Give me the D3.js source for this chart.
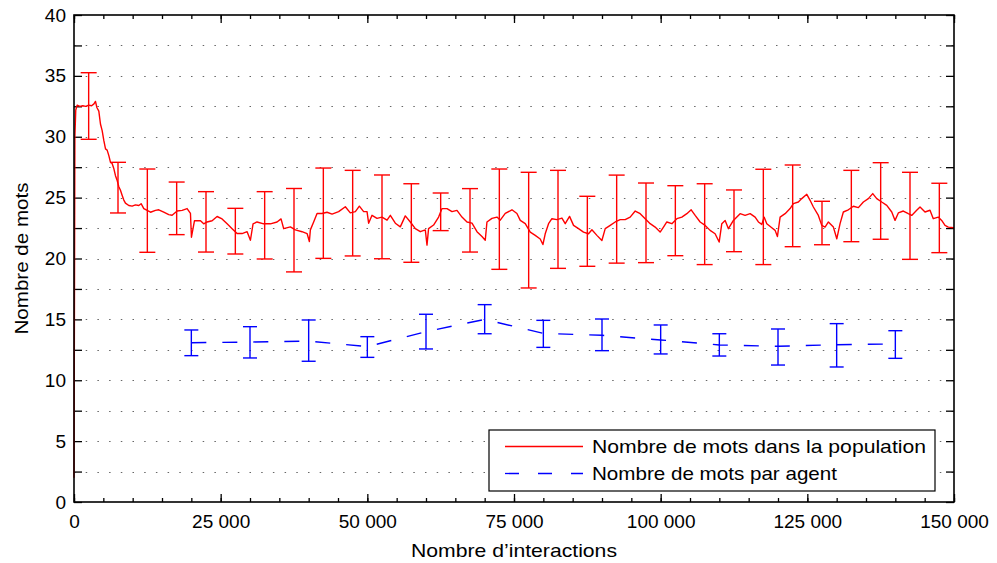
<!DOCTYPE html>
<html>
<head>
<meta charset="utf-8">
<script src="https://cdn.jsdelivr.net/npm/d3@7"></script>
<style>
body { margin: 0; background: #fff; }
svg { font-family: "Liberation Sans", Arial, sans-serif; }
</style>
</head>
<body>
<svg id="chart" width="997" height="563"></svg>
<script>
// ---- data ----
const redX = [0,150,300,540,1000,1500,2000,2500,3000,3400,3660,3900,4230,4510,4800,5080,5370,5650,5940,6220,6500,6780,7070,7360,7640,7920,8200,8490,8770,9340,9910,10480,11050,11440,11900,12470,13040,13880,14450,15300,16150,16720,17580,18430,19280,19850,20020,20530,21560,22110,22680,23540,24390,25240,26100,26950,27800,28650,29510,30070,30520,31200,32340,33480,34610,35290,35740,36880,
  37730,38870,39730,40120,40290,40850,41430,42280,43130,43990,45110,46250,47100,47960,48640,49370,49950,50220,50800,51650,52500,53360,53920,54770,55620,56470,57330,58180,59030,59880,60170,60440,61290,62150,62730,63580,64430,65280,66130,66990,67840,68690,69540,70100,70390,71240,72100,72660,73510,74650,75500,
  76070,76920,77770,78620,79470,79930,80320,80890,81460,82320,83170,83730,84470,85150,86000,86850,87700,88280,89130,89980,90550,91400,92250,93100,93950,94800,95660,96510,97360,98210,99060,99910,100480,101050,101910,102760,103610,104460,105200,105880,106730,107580,108430,109280,109970,110420,110990,111550,112400,
  113540,114390,115250,116100,116660,117240,117630,118090,118940,119510,119900,120360,121210,122060,122620,123470,124050,124910,125470,126030,126880,127460,128020,128590,129440,130020,130580,131140,131990,132850,133700,134550,135400,136150,136830,137680,138540,139390,139950,140510,141360,142210,142790,143640,144210,145060,145910,146470,147320,147900,148470,149030,150000];
const redY = [2,30,32.2,32.6,32.5,32.55,32.5,32.6,32.55,32.7,32.9,32.4,32.1,31.05,30.5,29.7,29.0,28.9,28.45,27.9,27.8,27.4,26.8,26.4,25.9,25.6,25.2,24.8,24.55,24.35,24.3,24.4,24.35,24.5,24.1,23.95,23.8,23.95,24.0,23.8,23.6,23.55,23.9,23.95,24.1,23.7,21.75,23.1,23.1,22.85,23.0,23.1,23.45,23.25,22.85,22.45,22.05,22.05,22.2,21.5,22.85,23.0,22.85,22.85,23.0,23.25,22.45,22.6,
  22.35,22.2,22.05,21.4,22.35,23.0,23.7,23.7,23.8,23.65,23.85,24.25,23.75,23.85,24.3,23.85,23.85,22.9,23.55,23.3,23.4,23.15,23.55,22.9,22.6,23.5,23.0,22.45,22.2,22.35,21.1,22.45,22.75,23.4,24.1,24.1,23.85,23.95,23.4,23.0,22.9,22.2,21.8,21.5,23.0,23.3,23.4,23.15,23.7,24.0,23.7,
  23.13,22.86,22.17,21.9,21.6,21.15,22.03,22.86,23.27,23.19,23.32,22.86,23.46,22.72,22.45,22.17,22.03,22.36,21.9,21.48,22.45,22.72,23.0,23.19,23.19,23.4,23.9,23.68,23.27,22.86,22.58,22.17,22.58,23.0,22.86,23.27,23.4,23.68,24.0,23.54,23.0,22.72,22.31,22.03,21.35,22.86,23.13,22.45,23.13,
  23.68,23.54,23.68,23.4,23.0,22.8,23.4,22.86,22.53,22.31,21.8,23.4,23.68,24.1,24.5,24.64,24.92,25.27,24.78,24.23,23.54,22.72,22.58,23.0,22.58,21.62,22.86,23.82,24.0,24.29,24.18,24.64,24.92,25.33,24.92,24.64,24.37,23.82,23.13,23.74,23.9,23.68,23.54,23.96,24.23,23.82,23.96,23.27,23.4,23.13,22.72,22.58,22.53];

// error bars of the population series
const redBarX = [2500,7500,12500,17500,22500,27500,32500,37500,42500,47500,52500,57500,62500,67500,72500,77500,82500,87500,92500,97500,102500,107500,112500,117500,122500,127500,132500,137500,142500,147500];
const redBarHigh = [35.26,27.9,27.35,26.28,25.49,24.12,25.49,25.75,27.43,27.24,26.86,26.14,25.38,25.74,27.35,27.08,27.24,25.11,26.85,26.2,25.98,26.14,25.63,27.33,27.68,24.7,27.24,27.87,27.08,26.18];
const redBarLow = [29.79,23.74,20.51,21.96,20.53,20.37,19.96,18.9,20.01,20.21,19.98,19.69,22.29,20.53,19.11,17.58,19.19,19.36,19.62,19.66,20.23,19.5,20.56,19.5,20.97,21.13,21.38,21.58,19.93,20.48];

// words per agent
const blueX = [20000,30000,40000,50000,60000,70000,80000,90000,100000,110000,120000,130000,140000];
const blueY = [13.08,13.14,13.22,12.76,13.99,15.0,13.85,13.69,13.31,12.9,12.79,12.92,12.98];
const blueHigh = [14.13,14.4,14.95,13.58,15.42,16.21,14.92,15.03,14.54,13.82,14.21,14.65,14.07];
const blueLow = [12.02,11.83,11.56,11.88,12.57,13.82,12.7,12.43,12.16,11.99,11.25,11.09,11.8];

const xMajor = [0,25000,50000,75000,100000,125000,150000];
const yMajor = [0,5,10,15,20,25,30,35,40];
const seriesNames = ["Nombre de mots dans la population", "Nombre de mots par agent"];

// ---- layout ----
const svg = d3.select("#chart");
const L = 74, R = 954, T = 15, B = 502;

const x = d3.scaleLinear().domain([0, 150000]).range([L, R]);
const y = d3.scaleLinear().domain([0, 40]).range([B, T]);

const fr = d3.formatLocale({decimal: ",", thousands: "\u00a0", grouping: [3], currency: ["", ""]});
const fmt = fr.format(",d");

const xMinor = d3.range(0, 150001, 5000);
const yAll = d3.range(0, 40.01, 2.5);

// dotted horizontal grid
svg.append("g")
  .selectAll("line")
  .data(yAll.filter(v => v > 0 && v < 40))
  .join("line")
  .attr("x1", L).attr("x2", R)
  .attr("y1", d => Math.round(y(d)) + 0.5).attr("y2", d => Math.round(y(d)) + 0.5)
  .attr("stroke", "#666")
  .attr("stroke-width", 1)
  .attr("stroke-dasharray", "1.5,10.2");

// axes with inward ticks
function styleAxis(g) {
  g.select(".domain").remove();
  g.selectAll("line").attr("stroke", "#000").attr("stroke-width", 1.3);
  g.selectAll("text").attr("font-size", 19).attr("fill", "#000");
}

svg.append("g").attr("transform", `translate(0,${B})`)
  .call(d3.axisBottom(x).tickValues(xMinor).tickSize(-4).tickFormat(""))
  .call(styleAxis);
svg.append("g").attr("transform", `translate(0,${B})`)
  .call(d3.axisBottom(x).tickValues(xMajor).tickSize(-8).tickPadding(13).tickFormat(d => fmt(d)))
  .call(styleAxis);
svg.append("g").attr("transform", `translate(0,${T})`)
  .call(d3.axisTop(x).tickValues(xMinor).tickSize(-4).tickFormat(""))
  .call(styleAxis);
svg.append("g").attr("transform", `translate(0,${T})`)
  .call(d3.axisTop(x).tickValues(xMajor).tickSize(-8).tickFormat(""))
  .call(styleAxis);
svg.append("g").attr("transform", `translate(${L},0)`)
  .call(d3.axisLeft(y).tickValues(yAll).tickSize(-8).tickFormat(""))
  .call(styleAxis);
svg.append("g").attr("transform", `translate(${L},0)`)
  .call(d3.axisLeft(y).tickValues(yMajor).tickSize(0).tickPadding(8))
  .call(styleAxis);
svg.append("g").attr("transform", `translate(${R},0)`)
  .call(d3.axisRight(y).tickValues(yAll).tickSize(-8).tickFormat(""))
  .call(styleAxis);

// axis titles
svg.append("text")
  .attr("x", 514).attr("y", 557)
  .attr("text-anchor", "middle").attr("font-size", 19)
  .attr("textLength", 206).attr("lengthAdjust", "spacingAndGlyphs")
  .text("Nombre d\u2019interactions");
svg.append("text")
  .attr("transform", `translate(28,${(T + B) / 2}) rotate(-90)`)
  .attr("text-anchor", "middle").attr("font-size", 19)
  .attr("textLength", 152).attr("lengthAdjust", "spacingAndGlyphs")
  .text("Nombre de mots");

// blue series: dashed line + error bars
const blue = d3.zip(blueX, blueY, blueLow, blueHigh);
svg.append("path")
  .datum(blue)
  .attr("fill", "none")
  .attr("stroke", "#0000ff")
  .attr("stroke-width", 1.4)
  .attr("stroke-dasharray", "15,16")
  .attr("d", d3.line().x(d => x(d[0])).y(d => y(d[1])));

const bb = svg.append("g").attr("stroke", "#0000ff").attr("stroke-width", 1.4);
bb.selectAll(".v").data(blue).join("line")
  .attr("x1", d => x(d[0])).attr("x2", d => x(d[0]))
  .attr("y1", d => y(d[2])).attr("y2", d => y(d[3]));
bb.selectAll(".t").data(blue).join("line")
  .attr("x1", d => x(d[0]) - 7).attr("x2", d => x(d[0]) + 7)
  .attr("y1", d => y(d[3])).attr("y2", d => y(d[3]));
bb.selectAll(".b").data(blue).join("line")
  .attr("x1", d => x(d[0]) - 7).attr("x2", d => x(d[0]) + 7)
  .attr("y1", d => y(d[2])).attr("y2", d => y(d[2]));

// red series: line + error bars
svg.append("path")
  .datum(d3.zip(redX, redY))
  .attr("fill", "none")
  .attr("stroke", "#ff0000")
  .attr("stroke-width", 1.4)
  .attr("stroke-linejoin", "round")
  .attr("d", d3.line().x(d => x(d[0])).y(d => y(d[1])));

const red = d3.zip(redBarX, redBarLow, redBarHigh);
const rb = svg.append("g").attr("stroke", "#ff0000").attr("stroke-width", 1.4);
rb.selectAll(".v").data(red).join("line")
  .attr("x1", d => x(d[0])).attr("x2", d => x(d[0]))
  .attr("y1", d => y(d[1])).attr("y2", d => y(d[2]));
rb.selectAll(".t").data(red).join("line")
  .attr("x1", d => x(d[0]) - 8).attr("x2", d => x(d[0]) + 8)
  .attr("y1", d => y(d[2])).attr("y2", d => y(d[2]));
rb.selectAll(".b").data(red).join("line")
  .attr("x1", d => x(d[0]) - 8).attr("x2", d => x(d[0]) + 8)
  .attr("y1", d => y(d[1])).attr("y2", d => y(d[1]));

// frame
svg.append("rect")
  .attr("x", L).attr("y", T).attr("width", R - L).attr("height", B - T)
  .attr("fill", "none").attr("stroke", "#000").attr("stroke-width", 1.6);

// legend
const lg = svg.append("g").attr("transform", "translate(489,430)");
lg.append("rect").attr("width", 446).attr("height", 61)
  .attr("fill", "#fff").attr("stroke", "#000").attr("stroke-width", 1.2);
const legendRows = [
  {name: seriesNames[0], color: "#ff0000", dash: null, w: 334},
  {name: seriesNames[1], color: "#0000ff", dash: "14,19", w: 245}
];
legendRows.forEach((r, i) => {
  const yy = 16.5 + i * 27;
  lg.append("line").attr("x1", 16).attr("x2", 94).attr("y1", yy).attr("y2", yy)
    .attr("stroke", r.color).attr("stroke-width", 1.3)
    .attr("stroke-dasharray", r.dash);
  lg.append("text").attr("x", 103).attr("y", yy + 6.5)
    .attr("font-size", 19)
    .attr("textLength", r.w).attr("lengthAdjust", "spacingAndGlyphs")
    .text(r.name);
});
</script>
</body>
</html>
